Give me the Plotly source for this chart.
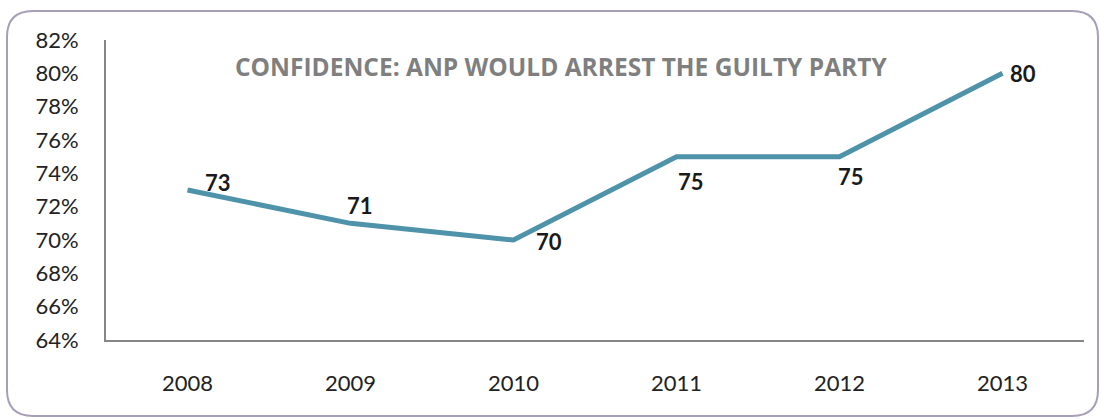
import plotly.graph_objects as go

years = ["2008", "2009", "2010", "2011", "2012", "2013"]
confidence = [73, 71, 70, 75, 75, 80]
label_dx = [30, 9, 35, 14, 11, 20]
label_dy = [8, 18, -1, -25, -20, 0]
title = "CONFIDENCE: ANP WOULD ARREST THE GUILTY PARTY"

W, H = 1101, 419
L, R, T, B = 106, 17, 40, 79
pw, ph = W - L - R, H - T - B

def px(x):
    return (x - L) / pw

def py(y):
    return (H - B - y) / ph

x0, x1, y0, y1, r = 7, 1098, 11, 416, 26
path = (f"M {px(x0+r)} {py(y0)} L {px(x1-r)} {py(y0)} Q {px(x1)} {py(y0)} {px(x1)} {py(y0+r)} "
        f"L {px(x1)} {py(y1-r)} Q {px(x1)} {py(y1)} {px(x1-r)} {py(y1)} "
        f"L {px(x0+r)} {py(y1)} Q {px(x0)} {py(y1)} {px(x0)} {py(y1-r)} "
        f"L {px(x0)} {py(y0+r)} Q {px(x0)} {py(y0)} {px(x0+r)} {py(y0)} Z")

font = "Lato, Open Sans, sans-serif"

fig = go.Figure()
fig.add_trace(go.Scatter(
    x=years, y=confidence, mode="lines",
    line=dict(color="#4E93AA", width=5),
    cliponaxis=False, showlegend=False,
))

annotations = [dict(text=f"<b>{title}</b>", x=px(561), y=py(48), xref="paper", yref="paper",
                    showarrow=False, font=dict(family="Open Sans", size=24.5, color="#7F7F7F"))]
for i, (v, dx, dy) in enumerate(zip(confidence, label_dx, label_dy)):
    annotations.append(dict(x=i, y=v, xref="x", yref="y", text=f"<b>{v}</b>", showarrow=False,
                            xshift=dx, yshift=dy,
                            font=dict(family=font, size=22, color="#1a1a1a", weight=900)))

fig.update_layout(
    width=W, height=H,
    margin=dict(l=L, r=R, t=T, b=B, autoexpand=False),
    paper_bgcolor="white", plot_bgcolor="white",
    font=dict(family=font),
    shapes=[dict(type="path", path=path, xref="paper", yref="paper",
                 line=dict(color="#A79FB8", width=2), fillcolor="rgba(0,0,0,0)", layer="below")],
    annotations=annotations,
    xaxis=dict(type="category", range=[-0.5, 5.5], showline=True, linecolor="#868686", linewidth=2,
               showgrid=False, ticks="", tickfont=dict(size=22, color="#222"), ticklabelstandoff=23),
    yaxis=dict(range=[64, 82], dtick=2, ticksuffix="%", showline=True, linecolor="#868686",
               linewidth=2, showgrid=False, zeroline=False, ticks="",
               tickfont=dict(size=22, color="#222"), ticklabelstandoff=21),
)

fig.write_html("out.html", config={"displayModeBar": False},
               post_script="document.body.style.margin='0';document.body.style.overflow='hidden';")
